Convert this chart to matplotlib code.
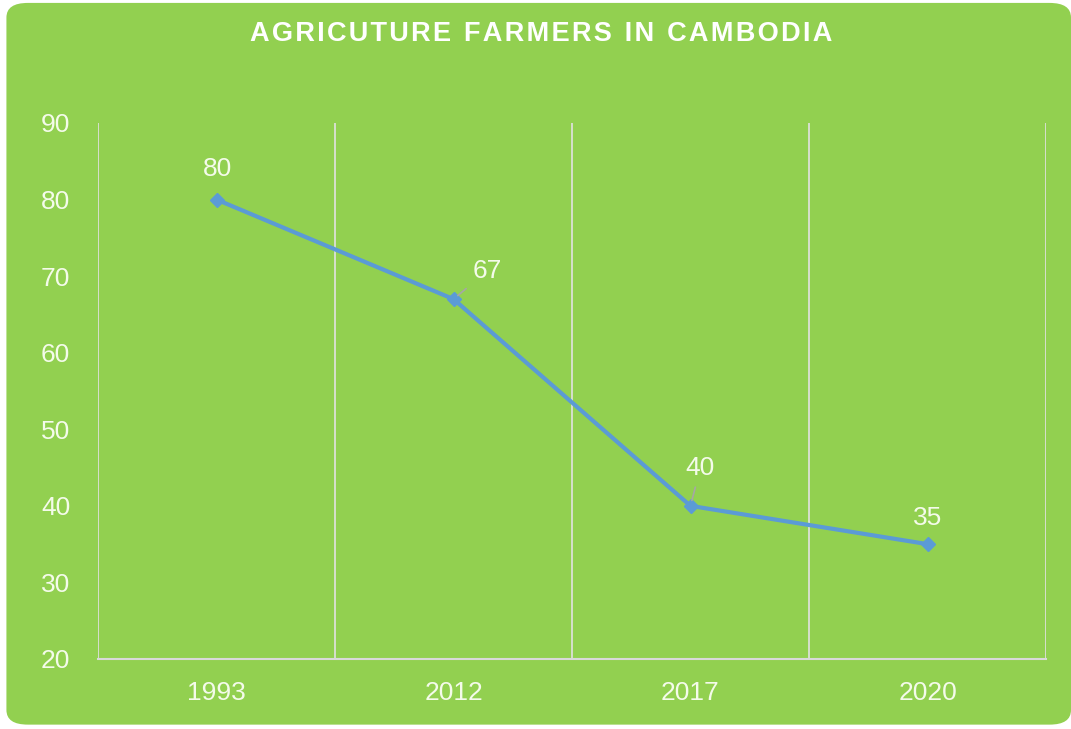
import matplotlib.pyplot as plt
from matplotlib.patches import FancyBboxPatch

years = ['1993', '2012', '2017', '2020']
farmers = [80, 67, 40, 35]
# label offsets in points (dx, dy), leader line drawn when set
label_offsets = [(1, 22), (24, 20), (7, 27), (0, 19)]
leaders = [False, True, True, False]

green = '#92D050'
line_blue = '#5B9BD5'
text_col = '#F4FBEA'
title = 'AGRICUTURE FARMERS IN CAMBODIA'

plt.rcParams['font.family'] = ['Liberation Sans', 'DejaVu Sans']

fig = plt.figure(figsize=(10.71, 7.29), dpi=100)
fig.patch.set_facecolor('white')

bg = FancyBboxPatch((0.006, 0.006), 0.994, 0.99, boxstyle='round,pad=0,rounding_size=0.02',
                    transform=fig.transFigure, facecolor=green, edgecolor='none', zorder=-5)
fig.patches.append(bg)

ax = fig.add_axes([98 / 1071, 1 - 659 / 729, (1046 - 98) / 1071, (659 - 123) / 729])
ax.set_facecolor('none')
ax.set_zorder(2)

x = list(range(len(years)))
ax.plot(x, farmers, color=line_blue, linewidth=3, marker='D', markersize=7, zorder=3)

for i, v in enumerate(farmers):
    dx, dy = label_offsets[i]
    props = None
    if leaders[i]:
        props = dict(arrowstyle='-', color='#A6A6A6', lw=1.2, shrinkA=3, shrinkB=4)
    ax.annotate(str(v), (i, v), xytext=(dx, dy), textcoords='offset points',
                ha='center', va='center', color=text_col, fontsize=19,
                arrowprops=props)

ax.set_xlim(-0.5, 3.5)
ax.set_ylim(20, 90)
ax.set_yticks(range(20, 91, 10))
ax.set_xticks(x)
ax.set_xticklabels(years)

# vertical separators between categories
for b in [-0.5, 0.5, 1.5, 2.5, 3.5]:
    ax.axvline(b, color='#E2E2E2', linewidth=1.2, zorder=1)

for s in ['top', 'right', 'left']:
    ax.spines[s].set_visible(False)
ax.spines['bottom'].set_color('#D9D9D9')
ax.spines['bottom'].set_linewidth(1.5)

ax.tick_params(axis='both', length=0, colors=text_col, labelsize=19)
ax.tick_params(axis='x', pad=16)
ax.tick_params(axis='y', pad=20)

spaced = ' \u2009'.join('\u200a'.join(w) for w in title.split(' '))
fig.text(0.505, 0.953, spaced, ha='center', va='center', color='white',
         fontsize=19.5, fontweight='bold')

fig.savefig('out.png', dpi=100, facecolor=fig.get_facecolor())
